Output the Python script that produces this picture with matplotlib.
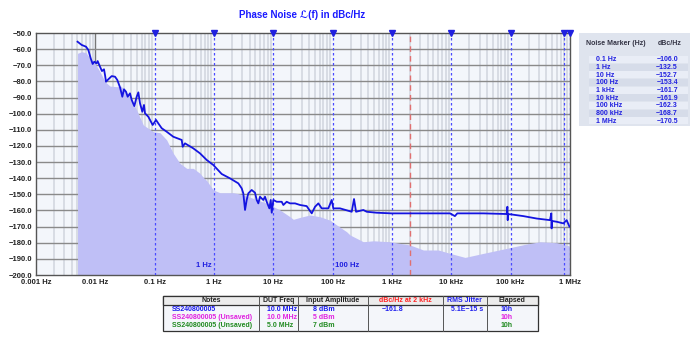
import numpy as np
import matplotlib
matplotlib.use("Agg")
import matplotlib.pyplot as plt
from matplotlib.patches import Rectangle

# ---------------- data ----------------
line_logf = [-2.30, -2.23, -2.157, -2.118, -2.078, -2.045, -2.017, -1.978, -1.961, -1.921,
             -1.888, -1.854, -1.837, -1.820, -1.781, -1.724, -1.668, -1.630, -1.584, -1.545,
             -1.517, -1.483, -1.455, -1.416, -1.387, -1.343, -1.303, -1.275, -1.247, -1.208,
             -1.180, -1.163, -1.107, -1.034, -0.977, -0.939, -0.882, -0.797, -0.686, -0.544,
             -0.528, -0.489, -0.349, -0.236, -0.123, -0.012, 0.130, 0.270, 0.410, 0.467,
             0.494, 0.523, 0.551, 0.578, 0.635, 0.691, 0.720, 0.747, 0.775, 0.831,
             0.860, 0.888, 0.933, 0.956, 0.973, 1.000, 1.057, 1.141, 1.169, 1.225,
             1.281, 1.366, 1.450, 1.562, 1.647, 1.703, 1.759, 1.815, 1.927, 1.984,
             2.011, 2.124, 2.321, 2.360, 2.394, 2.517, 2.574, 2.742, 2.995, 3.417,
             3.978, 4.06, 4.10, 4.539, 4.933, 4.945, 4.950, 4.955, 5.0, 5.214,
             5.439, 5.663, 5.685, 5.690, 5.695, 5.776, 5.888, 5.944, 5.99]
line_db = [-55.4, -57.4, -58.5, -60.5, -65.7, -69.2, -67.8, -68.8, -67.4, -70.9,
           -73.6, -72.5, -76.0, -80.2, -78.7, -76.7, -77.1, -79.1, -83.7, -89.5,
           -84.9, -86.4, -89.5, -87.4, -91.5, -95.3, -89.5, -86.8, -93.6, -98.8,
           -94.6, -99.8, -101.9, -107.0, -103.9, -106.0, -109.0, -111.2, -114.3, -116.3,
           -120.5, -118.4, -121.5, -124.6, -128.7, -131.8, -137.4, -140.1, -143.2, -146.3,
           -149.4, -159.7, -153.5, -149.4, -147.3, -149.0, -153.5, -155.6, -151.5, -153.5,
           -151.5, -154.6, -158.7, -153.5, -161.4, -153.5, -154.6, -154.6, -156.6, -154.6,
           -155.6, -155.6, -156.6, -157.3, -161.8, -157.7, -155.6, -158.7, -158.7, -153.5,
           -158.7, -158.7, -160.8, -152.9, -160.8, -159.7, -160.8, -161.4, -161.8, -161.8,
           -161.8, -163.5, -161.8, -161.8, -162.2, -157.7, -166.0, -162.3, -162.4, -163.5,
           -165.0, -166.0, -161.8, -171.1, -166.5, -167.0, -168.0, -166.0, -170.0]

fill_logf = [-2.30, -2.23, -2.157, -2.09, -2.006, -1.921, -1.837, -1.753, -1.640, -1.572,
             -1.500, -1.387, -1.303, -1.192, -1.023, -0.910, -0.797, -0.686, -0.573, -0.460,
             -0.349, -0.236, -0.180, -0.123, -0.012, 0.101, 0.325, 0.438, 0.663, 0.888,
             1.112, 1.281, 1.337, 1.450, 1.618, 1.787, 1.955, 2.068, 2.236, 2.293,
             2.406, 2.517, 2.685, 2.967, 3.304, 3.528, 3.781, 3.978, 4.231, 4.539,
             4.933, 5.270, 5.495, 5.776, 5.99]
fill_db = [-62.6, -61.6, -62.2, -65.7, -68.8, -74.0, -80.2, -82.9, -83.3, -82.9,
           -85.3, -91.5, -97.7, -107.0, -111.2, -111.8, -116.3, -124.6, -130.8, -133.9,
           -133.9, -137.0, -139.5, -141.5, -147.3, -149.0, -149.0, -149.8, -152.5, -155.6,
           -159.7, -163.9, -165.5, -164.3, -162.8, -163.9, -166.0, -169.0, -173.2, -175.2,
           -177.3, -179.4, -178.8, -179.4, -181.4, -184.5, -184.5, -186.6, -189.1, -186.6,
           -183.5, -180.8, -179.4, -180.0, -182.0]

marker_freqs = [0.1, 1, 10, 100, 1e3, 1e4, 1e5, 8e5, 1e6]
marker_labels = ["0.1 Hz", "1 Hz", "10 Hz", "100 Hz", "1 kHz", "10 kHz", "100 kHz", "800 kHz", "1 MHz"]
marker_values = ["\u2212106.0", "\u2212132.5", "\u2212152.7", "\u2212153.4", "\u2212161.7",
                 "\u2212161.9", "\u2212162.3", "\u2212168.7", "\u2212170.5"]
red_marker = 2e3

x_ticks = [1e-3, 1e-2, 1e-1, 1, 10, 100, 1e3, 1e4, 1e5, 1e6]
x_ticklabels = ["0.001 Hz", "0.01 Hz", "0.1 Hz", "1 Hz", "10 Hz", "100 Hz",
                "1 kHz", "10 kHz", "100 kHz", "1 MHz"]
y_ticks = list(range(-50, -201, -10))

table_headers = ["Notes", "DUT Freq", "Input Amplitude", "dBc/Hz at 2 kHz", "RMS Jitter", "Elapsed"]
notes = ["SS240800005", "SS240800005 (Unsaved)", "SS240800005 (Unsaved)"]
dut_freq = ["10.0 MHz", "10.0 MHz", "5.0 MHz"]
input_amp = ["8 dBm", "5 dBm", "7 dBm"]
dbc_2k = ["\u2212161.8", "", ""]
rms_jitter = ["5.1E\u221215 s", "", ""]
elapsed = ["10h", "10h", "10h"]
trace_colors = ["#1a1aee", "#e020e0", "#208a20"]

# ---------------- figure ----------------
W, H = 700, 351
fig = plt.figure(figsize=(7.0, 3.51), dpi=100)
fig.patch.set_facecolor("white")
FONT = ["Liberation Sans", "DejaVu Sans"]

def fx(px):
    return px / W

def fy(py):
    return 1 - py / H

ax_l, ax_r, ax_t, ax_b = 36, 570, 33, 275
ax = fig.add_axes([fx(ax_l), fy(ax_b), fx(ax_r) - fx(ax_l), fy(ax_t) - fy(ax_b)])
ax.set_facecolor("#f3f6fb")
ax.set_xscale("log")
ax.set_xlim(1e-3, 1e6)
ax.set_ylim(-200, -50)

# minor vertical grid
for d in range(-3, 6):
    for m in range(2, 10):
        ax.axvline(m * 10.0 ** d, color="#d6dae2", lw=1.3, zorder=1)
# decade lines without markers
for f in x_ticks[1:-1]:
    if f not in marker_freqs:
        ax.axvline(f, color="#777777", lw=1.0, zorder=1)
for y in y_ticks[1:-1]:
    ax.axhline(y, color="#8a8a8a", lw=1.0, zorder=1)

lf = np.power(10.0, fill_logf)
ax.fill_between(lf, fill_db, -200, color="#bfbff6", lw=0, zorder=2)

ll = np.power(10.0, line_logf)
ax.plot(ll, line_db, color="#1414e0", lw=1.3, zorder=4)

for f in marker_freqs:
    ax.axvline(f, color="#4a4aff", lw=0.9, ls=(0, (2, 2)), zorder=3)
    ax.plot([f], [-50], marker="v", color="#2020e0", ms=4.5, clip_on=False, zorder=6)
ax.axvline(red_marker, color="#e07070", lw=1.0, ls=(0, (4, 3)), zorder=3)

ax.text(1, -194, "1 Hz ", ha="right", va="center", fontsize=5.5, fontweight="bold",
        color="#2020e0", family=FONT, zorder=5)
ax.text(100, -194, " 100 Hz", ha="left", va="center", fontsize=5.5, fontweight="bold",
        color="#2020e0", family=FONT, zorder=5)

ax.set_xticks(x_ticks)
ax.set_xticklabels(x_ticklabels)
ax.xaxis.set_minor_locator(matplotlib.ticker.NullLocator())
ax.set_yticks(y_ticks)
ax.set_yticklabels([("%.1f" % v).replace("-", "\u2212") for v in y_ticks])
ax.tick_params(axis="both", length=0, labelsize=5.5, colors="#222222")
ax.tick_params(axis="x", pad=3)
ax.tick_params(axis="y", pad=3)
for lab in ax.get_xticklabels() + ax.get_yticklabels():
    lab.set_fontweight("bold")
    lab.set_family(FONT)
for s in ax.spines.values():
    s.set_color("#555555")
    s.set_linewidth(1.0)

fig.text(fx(302), fy(15), "Phase Noise \u2112(f) in dBc/Hz", ha="center", va="center",
         fontsize=7.0, fontweight="bold", color="#1a1aff", family=FONT)

# ---------------- marker table (right) ----------------
def rect(x0, y0, x1, y1, fc, ec="none", lw=0):
    fig.patches.append(Rectangle((fx(x0), fy(y1)), fx(x1) - fx(x0), fy(y0) - fy(y1),
                                 transform=fig.transFigure, facecolor=fc, edgecolor=ec,
                                 lw=lw, zorder=0))

rect(579, 33, 690, 126, "#dfe4ee")
fig.text(fx(586), fy(43.5), "Noise Marker (Hz)", ha="left", va="center", fontsize=5,
         fontweight="bold", color="#333344", family=FONT)
fig.text(fx(682), fy(43.5), "dBc/Hz", ha="right", va="center", fontsize=5,
         fontweight="bold", color="#333344", family=FONT)
row0, rowh = 56, 7.65
for i, (lab, val) in enumerate(zip(marker_labels, marker_values)):
    y0 = row0 + i * rowh
    rect(589, y0, 688, y0 + rowh - 0.6, "#e9edf6" if i % 2 == 0 else "#d6dce9")
    fig.text(fx(596), fy(y0 + rowh / 2), lab, ha="left", va="center", fontsize=5,
             fontweight="bold", color="#2020e0", family=FONT)
    fig.text(fx(678), fy(y0 + rowh / 2), val, ha="right", va="center", fontsize=5,
             fontweight="bold", color="#2020e0", family=FONT)

# ---------------- bottom table ----------------
col_edges = [162.7, 259.3, 297.7, 368.3, 442.7, 486.7, 537.7]
t_top, t_hdr, t_bot = 295.5, 304.5, 331
rect(col_edges[0], t_top, col_edges[-1], t_bot, "#f4f6fa", ec="#333333", lw=0.9)
rect(col_edges[0], t_top, col_edges[-1], t_hdr, "#ececec", ec="#333333", lw=0.9)
for xe in col_edges[1:-1]:
    fig.add_artist(plt.Line2D([fx(xe), fx(xe)], [fy(t_top), fy(t_bot)],
                              transform=fig.transFigure, color="#555555", lw=0.7))
hdr_colors = ["#222222", "#222222", "#222222", "#ff2020", "#2020ee", "#222222"]
for i, h in enumerate(table_headers):
    fig.text(fx((col_edges[i] + col_edges[i + 1]) / 2), fy((t_top + t_hdr) / 2 + 0.3), h,
             ha="center", va="center", fontsize=5, fontweight="bold", color=hdr_colors[i],
             family=FONT)
row_y = [309.3, 317.5, 325.5]
col_x = [171.7, 266.7, 313.3, 381.7, 450.7, 500.7]
cols = [notes, dut_freq, input_amp, dbc_2k, rms_jitter, elapsed]
for r in range(3):
    for c in range(6):
        txt = cols[c][r]
        if not txt:
            continue
        color = trace_colors[r] if c not in (3, 4) else "#2020ee"
        fig.text(fx(col_x[c]), fy(row_y[r]), txt, ha="left", va="center", fontsize=5,
                 fontweight="bold", color=color, family=FONT)

fig.savefig("out.png", dpi=100, facecolor="white")
